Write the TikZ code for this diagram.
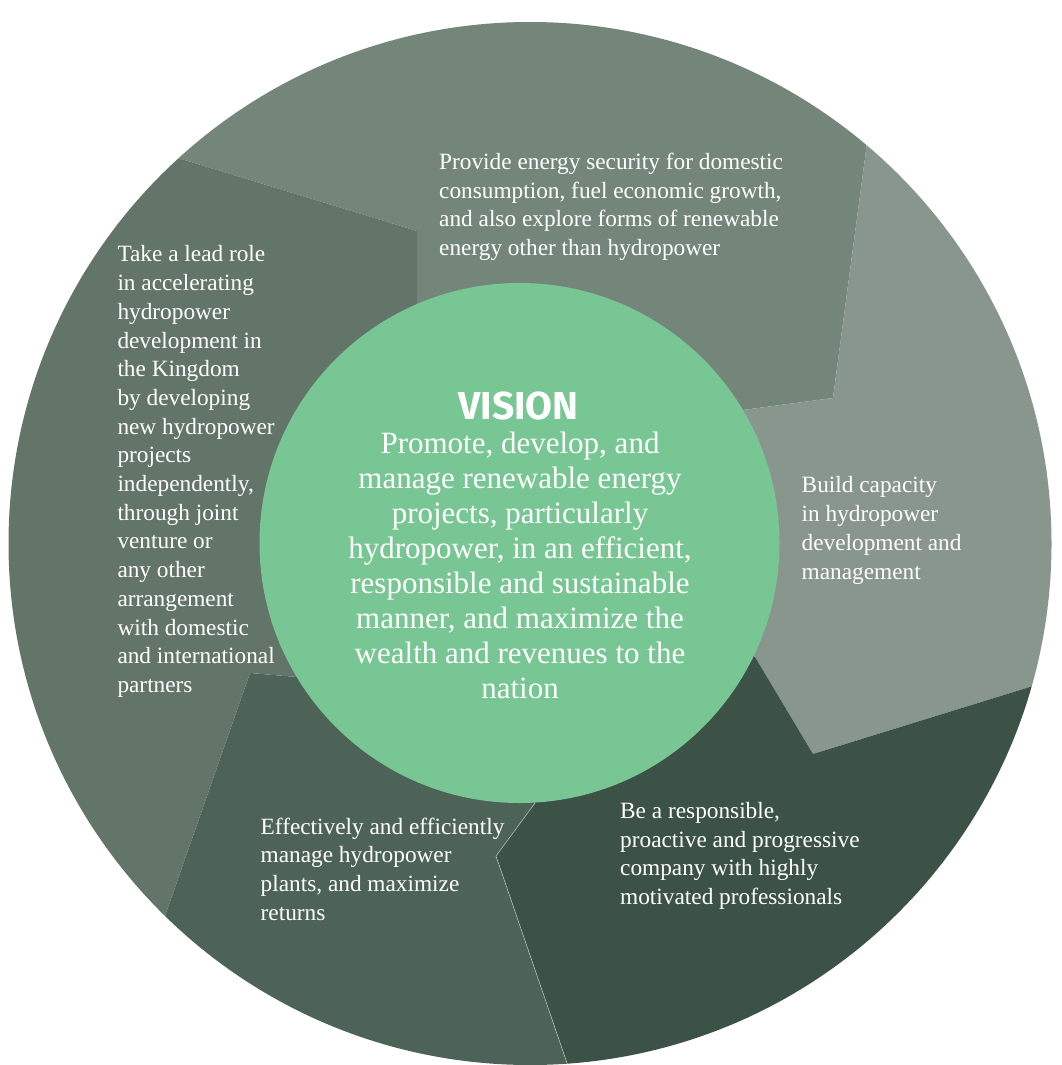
\documentclass[tikz,border=0pt]{standalone}
\usepackage{fontspec}
\setmainfont{Liberation Serif}
\newfontfamily\headfont{Fira Sans}
\usetikzlibrary{calc}

\definecolor{segTop}{HTML}{74867A}
\definecolor{segRight}{HTML}{88968E}
\definecolor{segBR}{HTML}{3C5247}
\definecolor{segBL}{HTML}{4E6357}
\definecolor{segLeft}{HTML}{637468}
\definecolor{coreGreen}{HTML}{78C693}

\tikzset{
  segtext/.style={text=white, align=left, inner sep=0pt, anchor=north west,
    font=\fontsize{23.3}{28.7}\selectfont},
  coretext/.style={text=white, align=center, inner sep=0pt, anchor=north,
    font=\fontsize{31}{35}\selectfont},
  headtext/.style={text=white, inner sep=0pt, anchor=base,
    font=\headfont\bfseries\fontsize{39}{44}\selectfont},
  divider/.style={white, opacity=0.45, line width=0.7pt}
}
\newcommand{\firststrut}{\rule{0pt}{20pt}}
\newcommand{\corestrut}{\rule{0pt}{26pt}}

\begin{document}
\begin{tikzpicture}[x=1pt,y=-1pt]
\useasboundingbox (0,0) rectangle (1061,1065);

% centres of the outer disc and of the vision disc
\coordinate (oc) at (530,543.5);
\coordinate (ic) at (519.5,543);

% dividing lines: inner end, knee, rim end
\coordinate (i1) at (417,303);  \coordinate (k1) at (417,231);  \coordinate (o1) at (178,158);
\coordinate (i2) at (743,410);  \coordinate (k2) at (833,398);  \coordinate (o2) at (867,143);
\coordinate (i3) at (755,657);  \coordinate (k3) at (813,754);  \coordinate (o3) at (1033,686);
\coordinate (i4) at (535,803);  \coordinate (k4) at (496,856);  \coordinate (o4) at (567,1063);
\coordinate (i5) at (297,677);  \coordinate (k5) at (250,673);  \coordinate (o5) at (165,916);

% the same lines carried on past the rim
\coordinate (e1) at ($(k1)!3!(o1)$);
\coordinate (e2) at ($(k2)!3!(o2)$);
\coordinate (e3) at ($(k3)!3!(o3)$);
\coordinate (e4) at ($(k4)!3!(o4)$);
\coordinate (e5) at ($(k5)!3!(o5)$);

\begin{scope}
  \clip (oc) circle [radius=521.5pt];
  \fill[segTop]   (ic) -- (i1) -- (k1) -- (e1) -- (e2) -- (k2) -- (i2) -- cycle;
  \fill[segRight] (ic) -- (i2) -- (k2) -- (e2) -- (e3) -- (k3) -- (i3) -- cycle;
  \fill[segBR]    (ic) -- (i3) -- (k3) -- (e3) -- (e4) -- (k4) -- (i4) -- cycle;
  \fill[segBL]    (ic) -- (i4) -- (k4) -- (e4) -- (e5) -- (k5) -- (i5) -- cycle;
  \fill[segLeft]  (ic) -- (i5) -- (k5) -- (e5) -- (e1) -- (k1) -- (i1) -- cycle;
  \draw[divider]  (i4) -- (k4) -- (e4);
\end{scope}

% central vision disc
\node[circle, fill=coreGreen, inner sep=0pt, minimum size=520pt] (core) at (ic) {};

\node[headtext] (visionhead) at (518.5,419) {VISION};
\node[coretext] (visiontext) at (520,427.3) {\corestrut Promote, develop, and\\
manage renewable energy\\
projects, particularly\\
hydropower, in an efficient,\\
responsible and sustainable\\
manner, and maximize the\\
wealth and revenues to the\\
nation};

% goal texts
\node[segtext] (goaltop) at (439,149.3) {\firststrut Provide energy security for domestic\\
consumption, fuel economic growth,\\
and also explore forms of renewable\\
energy other than hydropower};

\node[segtext] (goalleft) at (117.3,241.7) {\firststrut Take a lead role\\
in accelerating\\
hydropower\\
development in\\
the Kingdom\\
by developing\\
new hydropower\\
projects\\
independently,\\
through joint\\
venture or\\
any other\\
arrangement\\
with domestic\\
and international\\
partners};

\node[segtext] (goalright) at (801.5,472.7) {\firststrut Build capacity\\
in hydropower\\
development and\\
management};

\node[segtext] (goalbr) at (620,798.3) {\firststrut Be a responsible,\\
proactive and progressive\\
company with highly\\
motivated professionals};

\node[segtext] (goalbl) at (260.5,814) {\firststrut Effectively and efficiently\\
manage hydropower\\
plants, and maximize\\
returns};
\end{tikzpicture}
\end{document}
